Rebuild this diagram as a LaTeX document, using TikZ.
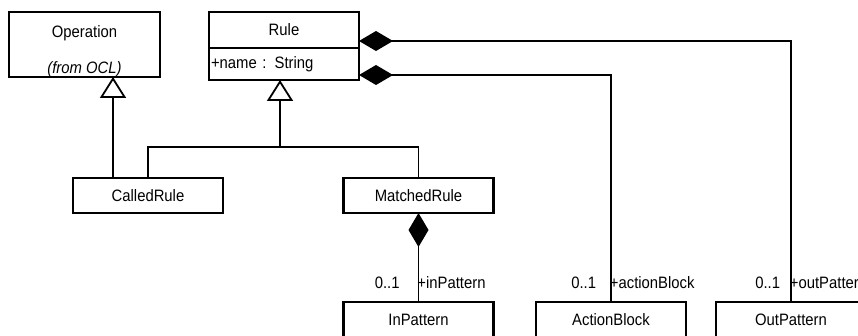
\documentclass[tikz,border=0pt]{standalone}
\usepackage{fontspec}
\setmainfont{Liberation Sans}[FakeStretch=0.9]
\usetikzlibrary{arrows.meta,positioning}

\begin{document}
\begin{tikzpicture}[
  x=1pt, y=-1pt,
  every node/.style={font=\fontsize{16.5}{19}\selectfont},
  cls/.style={draw, line width=2.6pt, outer sep=0pt, inner sep=2pt,
    minimum width=150pt, minimum height=35pt},
  link/.style={line width=1.8pt},
  gen/.style={link, -{Triangle[length=21pt, width=26pt, fill=white]}},
  comp/.style={link, {Diamond[length=34pt, width=20pt]}-},
  mult/.style={anchor=south east, inner sep=0pt, xshift=-#1, yshift=12pt},
  role/.style={anchor=south west, inner sep=0pt, xshift=-2pt, yshift=12pt}
]
\useasboundingbox (0,0) rectangle (858,336);

% classes
\node[cls, minimum width=151pt, minimum height=65pt] (op) at (84.5,44.5) {};
\node[anchor=base] (opname) at (84.5,37.5) {Operation};
\node[anchor=base, font=\fontsize{16.5}{19}\selectfont\itshape] (opfrom) at (84.5,73.5) {(from OCL)};

\node[cls, minimum height=36pt] (rule) at (284,30) {Rule};
\node[cls, minimum height=32pt, text width=146pt, align=left,
  below=0pt of rule] (ruleattr) {+name : String};

\node[cls] (called)  at (148,195.5) {CalledRule};
\node[cls] (matched) at (418.5,195.5) {MatchedRule};
\node[cls] (inpat)   at (418.5,319.5) {InPattern};
\node[cls] (action)  at (611,319.5) {ActionBlock};
\node[cls] (outpat)  at (791,319.5) {OutPattern};

% generalizations
\coordinate (opfoot) at ([xshift=28.5pt]op.south);
\draw[gen] (called.north -| opfoot) -- (opfoot);
\coordinate (fork) at (280,147);
\draw[link] (called.north) |- (fork) -| (matched.north);
\draw[gen] (fork) -- (fork |- ruleattr.south);

% compositions
\draw[comp] ([yshift=-11pt]rule.east) -| (outpat.north)
  node[mult=10pt] {0..1} node[role] {+outPattern};
\draw[comp] ([yshift=-11pt]ruleattr.east) -| (action.north)
  node[mult=14pt] {0..1} node[role] {+actionBlock};
\draw[comp] (matched.south) -- (inpat.north)
  node[mult=18pt] {0..1} node[role] {+inPattern};
\end{tikzpicture}
\end{document}
